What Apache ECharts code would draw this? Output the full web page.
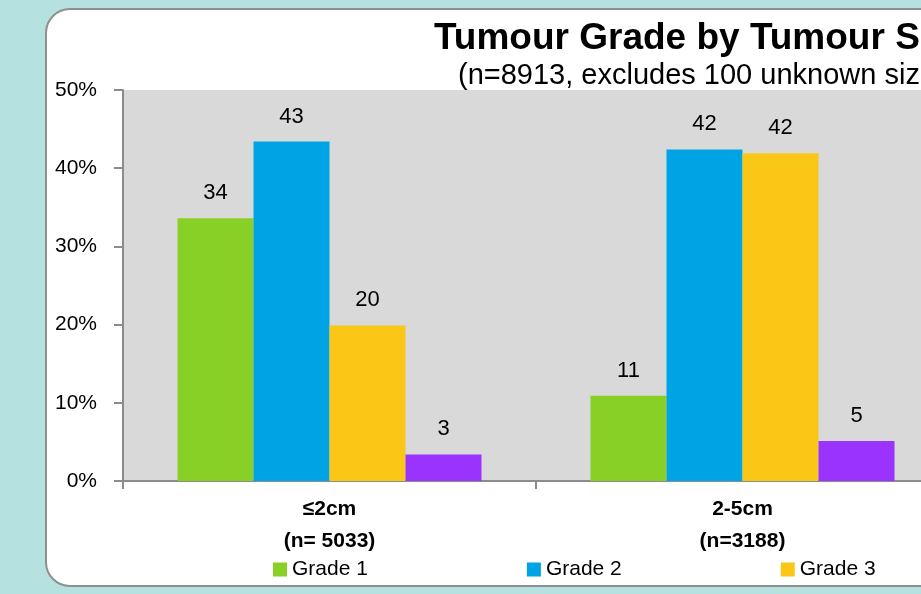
<!DOCTYPE html>
<html>
<head>
<meta charset="utf-8">
<script src="https://cdn.jsdelivr.net/npm/echarts@6/dist/echarts.min.js"></script>
<style>
  html, body { margin: 0; padding: 0; background: #b5e2e1; }
  #chart { width: 921px; height: 594px; }
</style>
</head>
<body>
<div id="chart"></div>
<script>
// tumour size groups (third group sits off the visible area)
const categories = ['\u22642cm\n(n= 5033)', '2-5cm\n(n=3188)', '>5cm'];
const grades = ['Grade 1', 'Grade 2', 'Grade 3', 'Grade 4'];
const grade1 = [33.6, 10.9, '-'];
const grade2 = [43.4, 42.4, '-'];
const grade3 = [19.9, 41.9, '-'];
const grade4 = [3.4, 5.1, '-'];
const gradeColors = ['#88cf26', '#00a3e3', '#fac716', '#9b33ff'];
const yTicks = [0, 10, 20, 30, 40, 50];

const font = "'Liberation Sans', Arial, sans-serif";
const chart = echarts.init(document.getElementById('chart'));

function makeSeries(name, data, color) {
  return {
    name: name,
    type: 'bar',
    data: data,
    barWidth: 76,
    barGap: '0%',
    itemStyle: { color: color },
    label: {
      show: true,
      position: 'top',
      distance: 14,
      color: '#000',
      fontFamily: font,
      fontSize: 22,
      formatter: p => Math.round(p.value)
    }
  };
}

const option = {
  backgroundColor: '#b5e2e1',
  animation: false,
  graphic: [{
    type: 'rect',
    z: -10,
    shape: { x: 46, y: 9, width: 1400, height: 577, r: 24 },
    style: { fill: '#fff', stroke: '#8f8f8f', lineWidth: 2 }
  }],
  title: [{
    text: 'Tumour Grade by Tumour Size',
    left: 434,
    top: 20,
    padding: 0,
    textStyle: { fontFamily: font, fontSize: 37, fontWeight: 'bold', color: '#000' }
  }, {
    text: '(n=8913, excludes 100 unknown size)',
    left: 458,
    top: 61,
    padding: 0,
    textStyle: { fontFamily: font, fontSize: 29, fontWeight: 'normal', color: '#000' }
  }],
  legend: {
    data: grades,
    left: 273,
    top: 559,
    padding: 0,
    icon: 'rect',
    itemWidth: 14,
    itemHeight: 14,
    itemGap: 159,
    textStyle: { fontFamily: font, fontSize: 21, color: '#000' }
  },
  grid: {
    left: 123,
    top: 90,
    width: 1239,
    height: 391,
    outerBoundsMode: 'none',
    containLabel: false,
    show: true,
    backgroundColor: '#d9d9d9',
    borderWidth: 0
  },
  xAxis: {
    type: 'category',
    data: categories,
    axisLine: { lineStyle: { color: '#8c8c8c', width: 2 } },
    axisTick: { show: true, length: 8, lineStyle: { color: '#8c8c8c', width: 2 } },
    axisLabel: {
      margin: 12,
      color: '#000',
      fontFamily: font,
      fontSize: 21,
      fontWeight: 'bold',
      lineHeight: 32
    }
  },
  yAxis: {
    type: 'value',
    min: yTicks[0],
    max: yTicks[yTicks.length - 1],
    interval: 10,
    axisLine: { show: true, lineStyle: { color: '#8c8c8c', width: 2 } },
    axisTick: { show: true, length: 9, lineStyle: { color: '#8c8c8c', width: 2 } },
    splitLine: { show: false },
    axisLabel: {
      margin: 26,
      color: '#000',
      fontFamily: font,
      fontSize: 21,
      formatter: '{value}%'
    }
  },
  series: [
    makeSeries(grades[0], grade1, gradeColors[0]),
    makeSeries(grades[1], grade2, gradeColors[1]),
    makeSeries(grades[2], grade3, gradeColors[2]),
    makeSeries(grades[3], grade4, gradeColors[3])
  ]
};

chart.setOption(option);
</script>
</body>
</html>
